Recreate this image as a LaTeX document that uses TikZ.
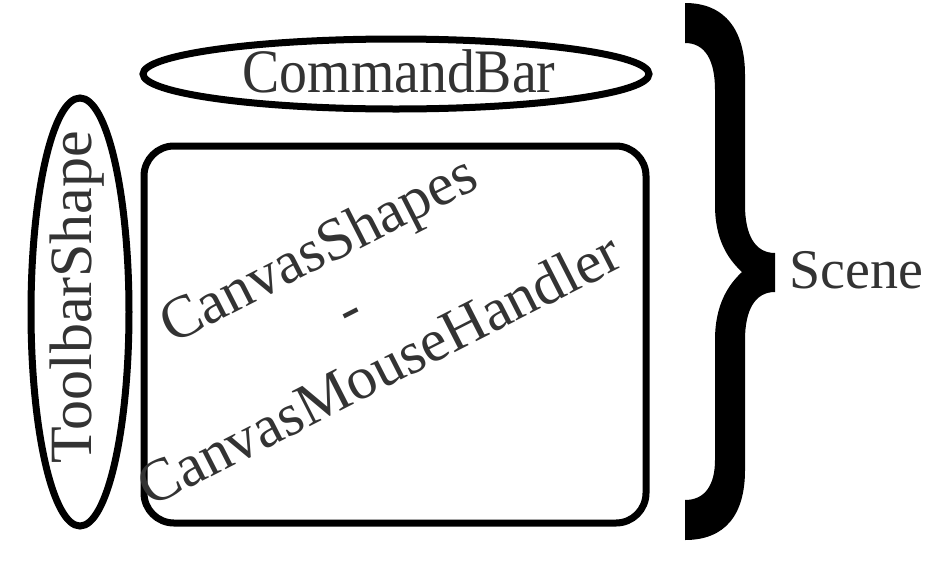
\documentclass[tikz,border=0pt]{standalone}
\usepackage{fontspec}
\setmainfont{Liberation Serif}
\definecolor{txtgray}{RGB}{51,51,51}

\tikzset{every picture/.style={line width=5.25pt}}
\tikzset{label text/.style={text=txtgray, inner sep=0.75pt, font=\fontsize{45}{51}\selectfont}}

\begin{document}
\begin{tikzpicture}[x=0.75pt,y=0.75pt,yscale=-1,xscale=1]
\useasboundingbox (0,0) rectangle (945,582);

% Shape: Ellipse
\draw    (396,74) circle [x radius= 253, y radius= 35]   ;
% Text Node
\node (cmdbar) at (399,71) [label text]  {\scalebox{0.93}[1.03]{CommandBar}};
% Shape: Ellipse
\draw    (80,312) circle [x radius= 49, y radius= 214]   ;
% Text Node
\node (toolbar) at (77,297) [label text, rotate=90]  {ToolbarShape};
% Shape: Rounded Rect
\draw [rounded corners=22.5pt]   (144,146) rectangle (646,523) ;
% Text Node
\node (canvas) at (348,308) [label text, rotate=27, align=center]  {CanvasShapes\\-\\CanvasMouseHandler};
% Shape: Brace
\fill (685,3) .. controls (725,3) and (745,30) .. (745,75) -- (745,205) .. controls (745,235) and (755,253) .. (775,253) -- (775,292) .. controls (755,292) and (745,310) .. (745,340) -- (745,470) .. controls (745,515) and (725,540) .. (685,540) -- (685,500) .. controls (705,500) and (715,485) .. (715,460) -- (715,340) .. controls (715,305) and (728,285) .. (742,272) .. controls (728,259) and (715,240) .. (715,205) -- (715,90) .. controls (715,60) and (705,43) .. (685,43) -- cycle ;
% Text Node
\node (scene) at (785,270) [label text, anchor=west, font=\fontsize{42}{48}\selectfont]  {Scene};

\end{tikzpicture}
\end{document}
